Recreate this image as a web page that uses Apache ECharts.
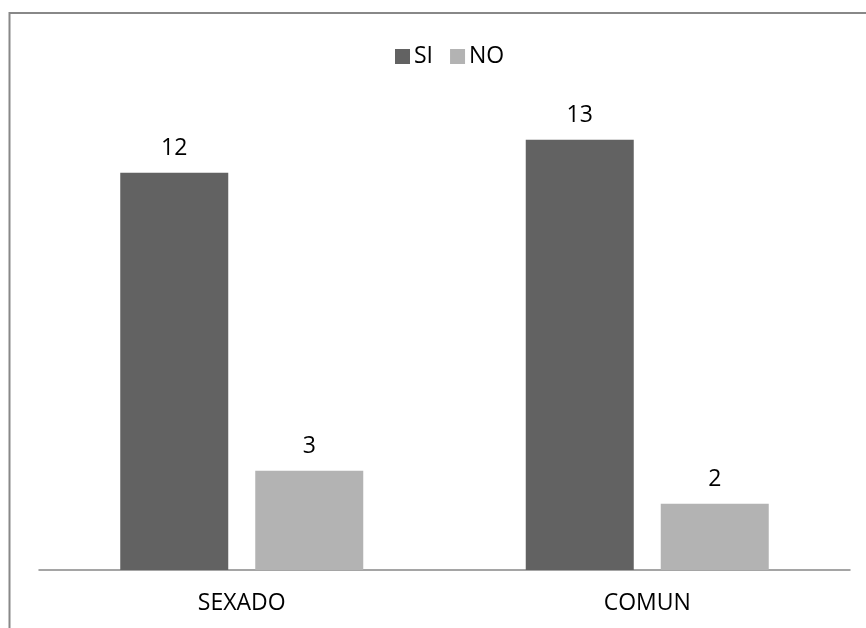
<!DOCTYPE html>
<html>
<head>
<meta charset="utf-8">
<style>
html,body{margin:0;padding:0;background:#fff;}
#chart{width:866px;height:628px;}
</style>
<script src="https://cdn.jsdelivr.net/npm/echarts@6/dist/echarts.min.js"></script>
</head>
<body>
<div id="chart"></div>
<script>
const categories = ['SEXADO', 'COMUN'];
const seriesNames = ['SI', 'NO'];
const siValues = [12, 13];
const noValues = [3, 2];

const FONT = '"Open Sans", sans-serif';
const FS = 23;
const chart = echarts.init(document.getElementById('chart'));
const labelStyle = {show: true, position: 'top', distance: 13, color: '#000', fontFamily: FONT, fontSize: FS};
chart.setOption({
  animation: false,
  backgroundColor: '#fff',
  graphic: [{
    type: 'rect', shape: {x: 9.5, y: 13, width: 870, height: 640},
    style: {fill: 'none', stroke: '#888', lineWidth: 2}, silent: true
  }],
  legend: {
    data: seriesNames,
    left: 390, top: 40,
    itemWidth: 15, itemHeight: 15, itemGap: 17,
    icon: 'rect',
    textStyle: {fontFamily: FONT, fontSize: FS, color: '#000', padding: [0, 0, 0, -1]}
  },
  grid: {left: 39, right: 16, top: 106.6, bottom: 58, containLabel: false},
  xAxis: {
    type: 'category', data: categories,
    axisLine: {show: true, lineStyle: {color: '#888', width: 1.5}},
    axisTick: {show: false},
    axisLabel: {color: '#000', fontFamily: FONT, fontSize: FS, margin: 22}
  },
  yAxis: {
    type: 'value', min: 0, max: 14, show: false,
    splitLine: {show: false}
  },
  series: [
    {name: seriesNames[0], type: 'bar', data: siValues, barWidth: 108, barGap: '25%',
     itemStyle: {color: '#626262'}, label: labelStyle},
    {name: seriesNames[1], type: 'bar', data: noValues, barWidth: 108,
     itemStyle: {color: '#b3b3b3'}, label: labelStyle}
  ]
});
</script>
</body>
</html>
